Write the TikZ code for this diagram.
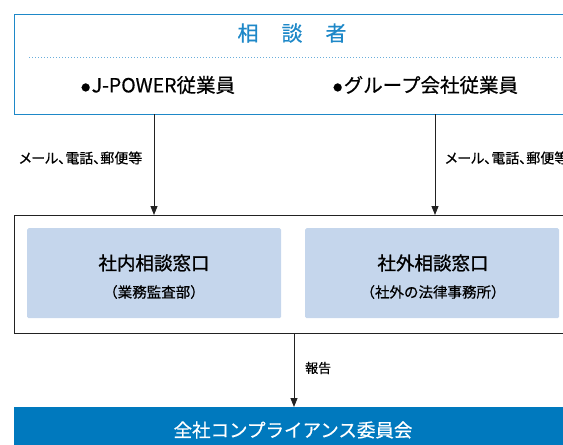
\documentclass[tikz,border=0pt]{standalone}
\usepackage{fontspec}
\setmainfont{Noto Sans CJK JP}
\newfontfamily\medfont{Noto Sans CJK JP}[FakeBold=0.5]
\newfontfamily\propfont{Noto Sans CJK JP}[FakeBold=0.5, RawFeature=+palt]
\newfontfamily\semifont{Noto Sans CJK JP}[FakeBold=1.2]
\usetikzlibrary{arrows.meta}
\definecolor{jblue}{HTML}{0079BE}
\definecolor{tblue}{HTML}{1E88C8}
\definecolor{lblue}{HTML}{C5D6EC}
\definecolor{dotblue}{HTML}{6AAEDB}
\definecolor{lineg}{HTML}{222222}
\tikzset{
  topbox/.style={draw=tblue, line width=0.9pt, anchor=north west, inner sep=0pt},
  midbox/.style={draw=lineg, line width=0.9pt, anchor=north west, inner sep=0pt},
  innerbox/.style={fill=lblue, rounded corners=1.5pt, anchor=north west, inner sep=0pt, minimum width=254pt, minimum height=90pt},
  barbox/.style={fill=jblue, anchor=north west, inner sep=0pt},
  arr/.style={draw=lineg, line width=0.9pt, -{Triangle[length=9pt,width=7pt]}},
  lbl/.style={font=\propfont\fontsize{14}{16}\selectfont, inner sep=0pt, anchor=west},
  big/.style={font=\medfont\fontsize{18.5}{21}\selectfont, inner sep=0pt},
  head/.style={font=\semifont\fontsize{18.5}{21}\selectfont, inner sep=0pt},
  sub/.style={font=\medfont\fontsize{14.5}{17}\selectfont, inner sep=0pt}
}
\newcommand{\blt}{{\fontsize{9}{10}\selectfont\raisebox{1.5pt}{●}}\hspace{1.5pt}}
\begin{document}
\begin{tikzpicture}[x=1pt,y=-1pt]
\useasboundingbox (0,0) rectangle (563,445);
\clip (0,0) rectangle (563,445);
% top box
\node[topbox, minimum width=580pt, minimum height=100pt] (top) at (13.5,13.5) {};
\node[font=\medfont\fontsize{21}{24}\selectfont, text=tblue, inner sep=0pt] (title) at (292,33) {相\hspace{23pt}談\hspace{23pt}者};
\coordinate (d1) at (29,57);
\coordinate (d2) at (563,57);
\draw[dotblue, line width=0.9pt, dash pattern=on 1pt off 2pt] (d1) -- (d2);
\node[big, font=\medfont\fontsize{19.5}{22}\selectfont, anchor=west] (p1) at (81,85) {\blt J-POWER従業員};
\node[big, font=\medfont\fontsize{19.5}{22}\selectfont, anchor=west] (p2) at (333,85) {\blt グループ会社従業員};
% middle box
\node[midbox, minimum width=580pt, minimum height=118pt] (mid) at (13.5,215) {};
\node[innerbox] (in1) at (27,228) {};
\node[innerbox] (in2) at (305,228) {};
\node[head] (t1) at (154,263) {社内相談窓口};
\node[sub] (s1) at (154,292) {（業務監査部）};
\node[head] (t2) at (433,263) {社外相談窓口};
\node[sub] (s2) at (433,292) {（社外の法律事務所）};
% arrows
\coordinate (a1) at (154,0);
\coordinate (a2) at (435,0);
\coordinate (a3) at (294,0);
\draw[arr] (top.south -| a1) -- (mid.north -| a1);
\draw[arr] (top.south -| a2) -- (mid.north -| a2);
\node[lbl] (m1) at (19,158) {メール、電話、郵便等};
\node[lbl] (m2) at (445,158) {メール、電話、郵便等};
% bottom bar
\node[barbox, minimum width=580pt, minimum height=45pt] (bar) at (13.5,407) {};
\node[big, text=white] (bt) at (293,430) {全社コンプライアンス委員会};
\draw[arr] (mid.south -| a3) -- (bar.north -| a3);
\node[lbl, font=\medfont\fontsize{13}{15}\selectfont] (r1) at (305,368) {報告};
\end{tikzpicture}
\end{document}
